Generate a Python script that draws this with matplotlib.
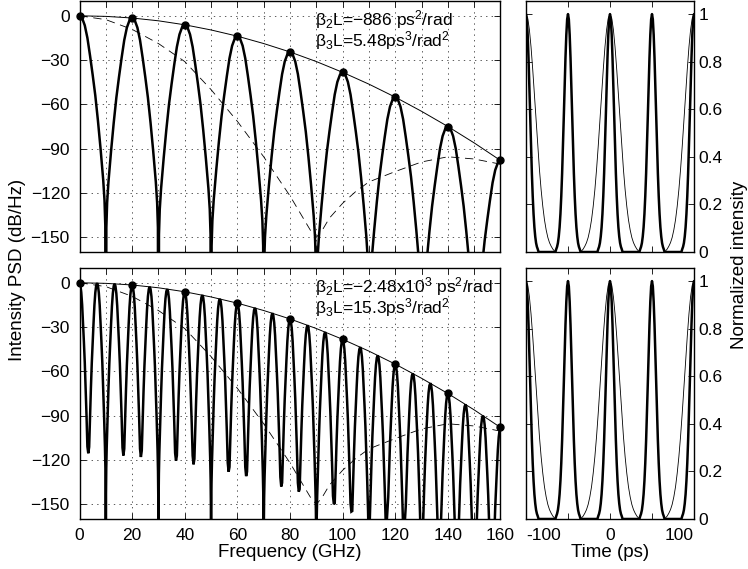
import numpy as np
import matplotlib.pyplot as plt

plt.rcParams['font.family'] = ['Liberation Sans', 'DejaVu Sans']
plt.rcParams['mathtext.fontset'] = 'custom'
plt.rcParams['mathtext.rm'] = 'Liberation Sans'
plt.rcParams['mathtext.it'] = 'Liberation Sans:italic'
plt.rcParams['lines.scale_dashes'] = False


# ============================================================
# DATA
# ============================================================

# envelope through the lobe peaks (thin solid line)
env_f  = [0, 10, 20, 30, 40, 50, 60, 70, 80, 90, 100, 110, 120, 130, 140, 150, 160]
env_db = [0, -0.4, -1.5, -3.4, -6.1, -9.6, -13.8, -18.8, -24.5, -31.0,
          -38.3, -46.3, -55.1, -64.7, -75.0, -86.1, -98.0]

# dashed curve (same in both panels)
dash_f  = [0, 10, 20, 30, 40, 50, 60, 70, 80, 85, 88, 90, 92, 95, 100,
           105, 110, 120, 130, 140, 150, 160]
dash_db = [0, -2.6, -9.2, -18.8, -31, -50, -71.5, -95.5, -122, -137, -146, -150,
           -146, -137, -127, -119, -112.5, -105.5, -99, -95.5, -97, -100.5]

# top spectrum: lobe peaks and nulls (nulls run off the axis)
top_peak_f  = [0, 20, 40, 60, 80, 100, 120, 140, 160]
top_peak_db = [0, -1.5, -6.1, -13.8, -24.5, -38.3, -55.1, -75.0, -98.0]
top_null_f  = [10, 30, 50, 70, 90, 110, 130, 150]
top_null_db = [-400, -400, -400, -400, -400, -400, -400, -400]

# bottom spectrum
bot_peak_f  = [0, 6.67, 13.33, 20, 26.67, 33.33, 40, 46.67, 53.33, 60, 66.67, 73.33,
               80, 86.67, 93.33, 100, 106.67, 113.33, 120, 126.67, 133.33, 140,
               146.67, 153.33, 160]
bot_peak_db = [0, -0.2, -0.7, -1.5, -2.7, -4.3, -6.1, -8.3, -10.9, -13.8, -17.0, -20.6,
               -24.5, -28.8, -33.4, -38.3, -43.6, -49.2, -55.1, -61.4, -68.0, -75.0,
               -82.4, -90.0, -98.0]
bot_null_f  = [3.33, 10, 16.67, 23.33, 30, 36.67, 43.33, 50, 56.67, 63.33, 70, 76.67,
               83.33, 90, 96.67, 103.33, 110, 116.67, 123.33, 130, 136.67, 143.33,
               150, 156.67]
bot_null_db = [-115.5, -400, -117, -118, -400, -120.5, -123, -400, -128, -131, -400,
               -138, -141.5, -400, -150, -155, -400, -165, -171, -400, -184, -191,
               -400, -206]

# shape of one half lobe: fraction of the way to the null vs dB below the peak
lobe_x    = [0, 0.1, 0.2, 0.3, 0.4, 0.5, 0.6, 0.7, 0.8, 0.9, 0.95, 0.98]
lobe_drop = [0, 1.6, 6.5, 15, 27, 40, 54, 71, 90, 111, 125, 142]

# time domain pulses (right panels)
thick_centers = [-100, -50, 0, 50, 100]
thick_dt  = [0, 1, 2, 3, 4, 5, 6, 7, 8, 9, 10, 11, 12, 13, 14, 15]
thick_val = [1, 0.978, 0.913, 0.816, 0.696, 0.568, 0.443, 0.330, 0.235, 0.160,
             0.104, 0.065, 0.038, 0.022, 0.012, 0]

thin_wide_centers   = [-100, 0, 100]
thin_narrow_centers = [-50, 50]
thin_dt  = [0, 2, 4, 6, 8, 10, 12, 14, 16, 18, 20, 22, 24, 26, 28, 30, 32, 34, 35]
thin_val = [1, 0.984, 0.936, 0.862, 0.768, 0.662, 0.552, 0.445, 0.347, 0.262,
            0.192, 0.135, 0.093, 0.061, 0.039, 0.024, 0.012, 0.004, 0]

labels_top = [r'β$_2$L=−886 ps$^2$/rad', r'β$_3$L=5.48ps$^3$/rad$^2$']
labels_bot = [r'β$_2$L=−2.48x10$^3$ ps$^2$/rad', r'β$_3$L=15.3ps$^3$/rad$^2$']


# ============================================================
# HELPERS
# ============================================================

def spectrum(peak_f, peak_db, null_f, null_db):
    knots = sorted([(f, d, True) for f, d in zip(peak_f, peak_db)] +
                   [(f, d, False) for f, d in zip(null_f, null_db)])
    fs, ds = [], []
    for (f0, d0, p0), (f1, d1, p1) in zip(knots[:-1], knots[1:]):
        fp, dp, fn, dn = (f0, d0, f1, d1) if p0 else (f1, d1, f0, d0)
        keep = [(x, dr) for x, dr in zip(lobe_x, lobe_drop) if dp - dr > dn]
        seg_f = [fp + x * (fn - fp) for x, dr in keep] + [fn]
        seg_d = [dp - dr for x, dr in keep] + [dn]
        if not p0:
            seg_f, seg_d = seg_f[::-1], seg_d[::-1]
        fs += seg_f
        ds += seg_d
    return fs, ds


def pulse(center, dt, val):
    t = [center - d for d in dt[::-1]] + [center + d for d in dt[1:]]
    v = val[::-1] + val[1:]
    return t, v


def train(pieces):
    ts, vs = [], []
    for center, dt, val in sorted(pieces, key=lambda p: p[0]):
        t, v = pulse(center, dt, val)
        ts += t
        vs += v
    return ts, vs


# ============================================================
# FIGURE
# ============================================================

TICK_FS = 12.5
LABEL_FS = 13.5
NOTE_FS = 12.5

fig = plt.figure(figsize=(7.48, 5.69), dpi=100)
ax_tl = fig.add_axes([0.1063, 0.5571, 0.5628, 0.4411])
ax_bl = fig.add_axes([0.1063, 0.0879, 0.5628, 0.4411])
ax_tr = fig.add_axes([0.7032, 0.5571, 0.2246, 0.4411])
ax_br = fig.add_axes([0.7032, 0.0879, 0.2246, 0.4411])

spectra = [
    (ax_tl, spectrum(top_peak_f, top_peak_db, top_null_f, top_null_db),
     top_peak_f, top_peak_db, labels_top),
    (ax_bl, spectrum(bot_peak_f, bot_peak_db, bot_null_f, bot_null_db),
     bot_peak_f[::3], bot_peak_db[::3], labels_bot),
]

for ax, (sf, sd), mf, md, labels in spectra:
    ax.plot(sf, sd, color='k', lw=1.8, solid_joinstyle='miter')
    ax.plot(env_f, env_db, color='k', lw=0.7)
    ax.plot(dash_f, dash_db, color='k', lw=0.6, ls=(0, (6, 4)))
    ax.plot(mf, md, 'o', color='k', ms=5, clip_on=False, zorder=5)
    ax.text(89.5, -2.5, labels[0], fontsize=NOTE_FS, va='center')
    ax.text(89.5, -16.5, labels[1], fontsize=NOTE_FS, va='center')

    ax.set_xlim(0, 160)
    ax.set_ylim(-160, 10)
    ax.set_xticks(range(0, 161, 10))
    ax.set_yticks(range(-150, 1, 30))
    ax.set_yticklabels([f'\u2212{-v}' if v < 0 else '0' for v in range(-150, 1, 30)])
    ax.grid(True, ls=(0, (1, 3)), lw=0.6, color='0.25')
    ax.set_axisbelow(True)
    ax.tick_params(direction='in', top=True, right=True, length=4, width=0.6,
                   labelsize=TICK_FS)
    ax.tick_params(axis='y', pad=7)
    ax.tick_params(axis='x', pad=6.5)

ax_tl.set_xticklabels([])
ax_bl.set_xticklabels([str(v) if v % 20 == 0 else '' for v in range(0, 161, 10)])
ax_bl.set_xlabel('Frequency (GHz)', fontsize=LABEL_FS, labelpad=1)

thick_t, thick_v = train([(c, thick_dt, thick_val) for c in thick_centers])
thin_t, thin_v = train([(c, thin_dt, thin_val) for c in thin_wide_centers] +
                       [(c, thick_dt, thick_val) for c in thin_narrow_centers])

for ax in (ax_tr, ax_br):
    ax.plot(thin_t, thin_v, color='k', lw=0.6)
    ax.plot(thick_t, thick_v, color='k', lw=1.8)
    ax.set_xlim(-100, 100)
    ax.set_ylim(0, 1.055)
    ax.set_xticks([-100, -50, 0, 50, 100])
    ax.set_yticks([0, 0.2, 0.4, 0.6, 0.8, 1])
    ax.set_yticklabels(['0', '0.2', '0.4', '0.6', '0.8', '1'])
    ax.tick_params(direction='in', top=True, left=True, right=True, length=4,
                   width=0.6, labelsize=TICK_FS, labelleft=False, labelright=True)
    ax.tick_params(axis='y', pad=3)
    ax.tick_params(axis='x', pad=6.5)

ax_tr.set_xticklabels([])
ax_br.set_xticklabels(['-100', '', '0', '', '100'])
ax_br.set_xlabel('Time (ps)', fontsize=LABEL_FS, labelpad=1)

# keep the crowded corner labels apart
ticklabs = ax_br.get_xticklabels()
ticklabs[0].set_horizontalalignment('left')
ticklabs[0].set_x(-100)
ticklabs[-1].set_horizontalalignment('right')

for ax in (ax_tl, ax_bl, ax_tr, ax_br):
    for sp in ax.spines.values():
        sp.set_linewidth(1.0)

fig.text(0.023, 0.525, 'Intensity PSD (dB/Hz)', rotation=90, fontsize=LABEL_FS,
         ha='center', va='center')
fig.text(0.988, 0.535, 'Normalized intensity', rotation=90, fontsize=LABEL_FS,
         ha='center', va='center')

fig.savefig('out.png', dpi=100)
